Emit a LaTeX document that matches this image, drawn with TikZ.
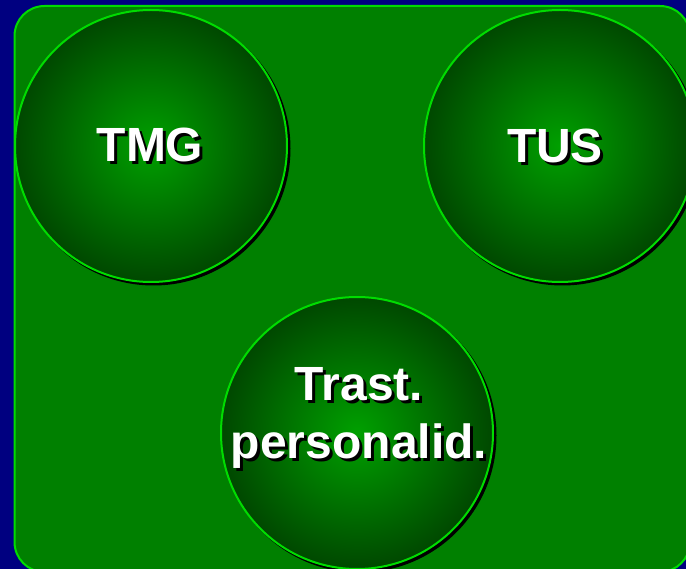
\documentclass[tikz,border=0pt]{standalone}
\usepackage{fontspec}
\setmainfont{Liberation Sans}
\definecolor{deepnavy}{HTML}{000080}
\definecolor{panelgreen}{HTML}{008000}
\definecolor{rimgreen}{HTML}{00DC00}
\definecolor{coregreen}{HTML}{00A000}
\definecolor{edgegreen}{HTML}{004800}
% radial glow: bright core fading to a dark rim
\pgfdeclareradialshading{glow}{\pgfpoint{0bp}{0bp}}{%
  color(0bp)=(coregreen); color(25bp)=(edgegreen); color(50bp)=(edgegreen)}
\begin{document}
\begin{tikzpicture}[x=1pt,y=-1pt,
  panel/.style={fill=panelgreen, draw=rimgreen, line width=2pt, rounded corners=30pt},
  bubble/.style={circle, minimum size=272pt, inner sep=0pt, shading=glow, draw=rimgreen, line width=2pt},
  bubbleshadow/.style={fill=black},
  caption/.style={text=white, font=\bfseries\fontsize{48}{58}\selectfont, align=center, inner sep=0pt},
  captionshadow/.style={caption, text=black}
]
\useasboundingbox (0,0) rectangle (686,569);
\clip (0,0) rectangle (686,569);
\fill[deepnavy] (0,0) rectangle (686,569);

% rounded green panel
\draw[panel] (14.5,6) rectangle (690,572);

% dark offset shadows under the three discs
\fill[bubbleshadow] (153.5,148.5) circle (137pt);
\fill[bubbleshadow] (562.5,148.5) circle (137pt);
\fill[bubbleshadow] (359.5,435.5) circle (137pt);

% the three discs
\node[bubble] (tmg) at (151,146) {};
\node[bubble] (tus) at (560,146) {};
\node[bubble] (trast) at (357,433) {};

% captions with a dropped black shadow
\node[captionshadow, anchor=base] (tmgs) at (153,165) {TMG};
\node[caption, anchor=base] (tmgt) at (150,162) {TMG};

\node[captionshadow, anchor=base] (tuss) at (558,166) {TUS};
\node[caption, anchor=base] (tust) at (555,163) {TUS};

\node[captionshadow] (trasts) at (362,421) {Trast.\\personalid.};
\node[caption] (trastt) at (359,418) {Trast.\\personalid.};
\end{tikzpicture}
\end{document}
